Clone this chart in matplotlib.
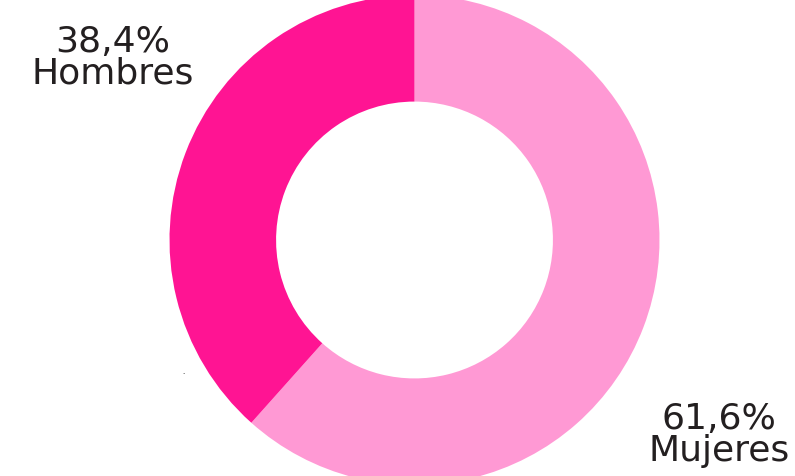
import matplotlib.pyplot as plt

labels = ["Mujeres", "Hombres"]
values = [61.6, 38.4]
value_texts = ["61,6%", "38,4%"]
colors = ["#FF99D4", "#FF1493"]

W, H = 795, 476
fig = plt.figure(figsize=(W / 100, H / 100), dpi=100)

# ring centre / radius in pixels (top-left origin)
cx, cy, r = 414.5, 240, 245
ax = fig.add_axes([(cx - r) / W, (H - cy - r) / H, 2 * r / W, 2 * r / H])
ax.pie(values, colors=colors, startangle=90, counterclock=False,
       radius=1, wedgeprops=dict(width=0.435, linewidth=0))
ax.set_xlim(-1, 1)
ax.set_ylim(-1, 1)
ax.set_aspect("auto")
ax.axis("off")

txt = "#231F20"

def px_text(x, y, s, size=26):
    fig.text(x / W, 1 - y / H, s, ha="center", va="baseline",
             fontsize=size, color=txt, family="DejaVu Sans")

# Hombres
px_text(113, 52, value_texts[1])
px_text(113, 84, labels[1])
# Mujeres
px_text(719, 429, value_texts[0])
px_text(719, 461, labels[0])

# stray dot in the original
fig.text(183 / W, 1 - 374 / H, ".", ha="center", va="baseline",
         fontsize=5, color="black")

fig.savefig("out.png", dpi=100)
